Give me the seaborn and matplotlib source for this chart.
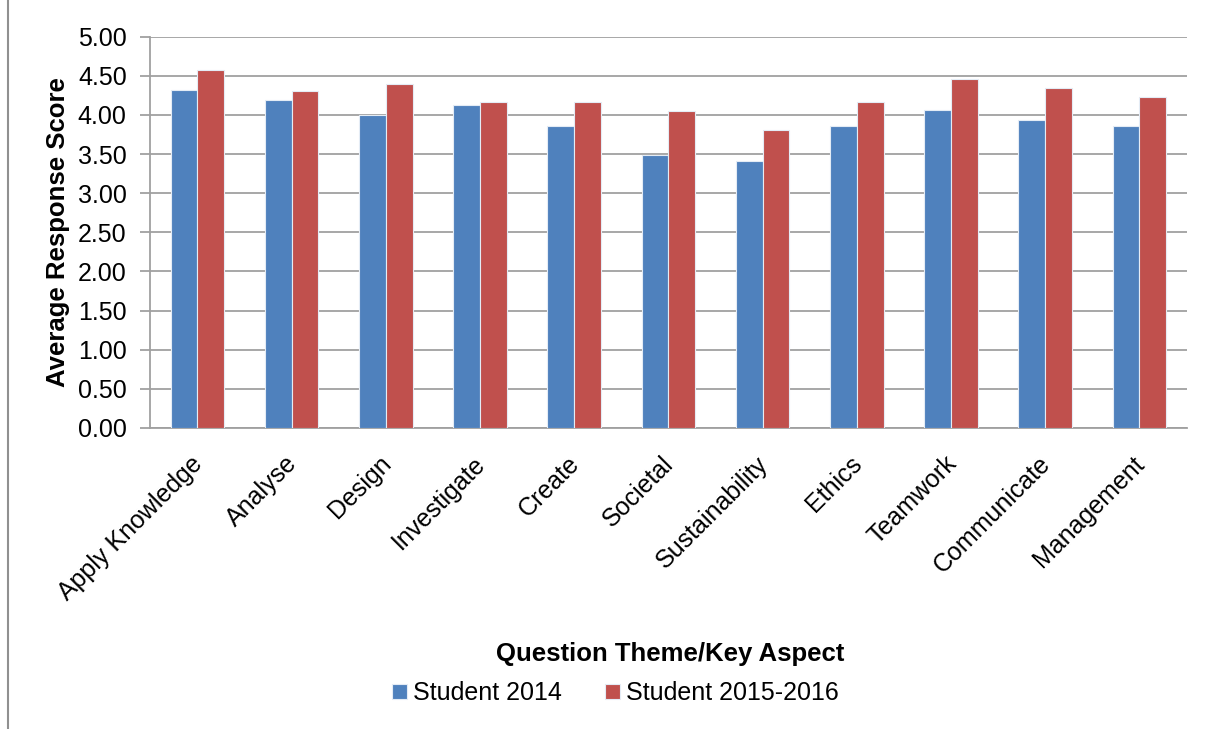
import numpy as np
import pandas as pd
import matplotlib
matplotlib.use("Agg")
import matplotlib.pyplot as plt
import matplotlib.transforms as mtransforms
import seaborn as sns
from matplotlib.lines import Line2D

# values
themes = ["Apply Knowledge", "Analyse", "Design", "Investigate", "Create",
          "Societal", "Sustainability", "Ethics", "Teamwork", "Communicate",
          "Management"]
student_2014 = [4.32, 4.19, 4.00, 4.13, 3.86, 3.49, 3.41, 3.86, 4.06, 3.93, 3.86]
student_2015_16 = [4.58, 4.30, 4.39, 4.16, 4.16, 4.05, 3.81, 4.16, 4.46, 4.34, 4.23]
series_names = ["Student 2014", "Student 2015-2016"]

df = pd.DataFrame({
    "theme": themes * 2,
    "score": student_2014 + student_2015_16,
    "group": [series_names[0]] * len(themes) + [series_names[1]] * len(themes),
})

sns.set_style("white")
plt.rcParams["font.family"] = ["Liberation Sans", "DejaVu Sans"]
plt.rcParams["text.color"] = "black"
plt.rcParams["xtick.color"] = "black"
plt.rcParams["ytick.color"] = "black"
plt.rcParams["axes.labelcolor"] = "black"

fig, ax = plt.subplots(figsize=(12.12, 7.29), dpi=100)
fig.subplots_adjust(left=0.124, right=0.979, top=0.9497, bottom=0.4129)

sns.barplot(data=df, x="theme", y="score", hue="group", order=themes,
            hue_order=series_names, palette=["#4F81BD", "#C0504D"],
            saturation=1, width=0.57, edgecolor="#e4ecf5", linewidth=0.8,
            ax=ax, errorbar=None, zorder=3)

grid_col = "#a0a0a0"
ax.set_ylim(0, 5)
ax.set_xlim(-0.5, len(themes) - 0.5)
yt = np.arange(0, 5.01, 0.5)
ax.set_yticks(yt)
ax.set_yticklabels([f"{v:.2f}" for v in yt], fontsize=18)
ax.yaxis.grid(True, color=grid_col, linewidth=1.3, zorder=0)
ax.set_axisbelow(True)

ax.set_xticks(range(len(themes)))
ax.set_xticklabels(themes, rotation=45, ha="right", rotation_mode="anchor", fontsize=18)
ax.tick_params(axis="x", length=0, pad=17)
shift = mtransforms.ScaledTranslation(-7 / 100, 0, fig.dpi_scale_trans)
for lbl in ax.get_xticklabels():
    lbl.set_transform(lbl.get_transform() + shift)
ax.set_xticks(np.arange(-0.5, len(themes)), minor=True)
ax.tick_params(axis="x", which="minor", length=7, color=grid_col, width=1.3)
ax.tick_params(axis="y", length=7, color=grid_col, width=1.3, left=True, pad=10)

for side in ["top", "right"]:
    ax.spines[side].set_visible(False)
for side in ["left", "bottom"]:
    ax.spines[side].set_color(grid_col)
    ax.spines[side].set_linewidth(1.3)

ax.set_ylabel("Average Response Score", fontsize=18.5, fontweight="bold")
ax.yaxis.set_label_coords(-0.077, 0.5)
ax.set_xlabel("")
fig.text(0.553, 0.103, "Question Theme/Key Aspect", ha="center", va="center",
         fontsize=18.5, fontweight="bold")

handles, labels = ax.get_legend_handles_labels()
ax.legend_.remove()
fig.legend(handles, labels, loc="center", bbox_to_anchor=(0.5075, 0.049), ncol=2,
           frameon=False, fontsize=18, handlelength=0.6, handleheight=0.6,
           handletextpad=0.25, columnspacing=1.72)

# thin outer border line on the left
fig.add_artist(Line2D([8 / 1212, 8 / 1212], [0, 1], transform=fig.transFigure,
                      color="#909090", linewidth=1.5))

plt.savefig("out.png", dpi=100)
